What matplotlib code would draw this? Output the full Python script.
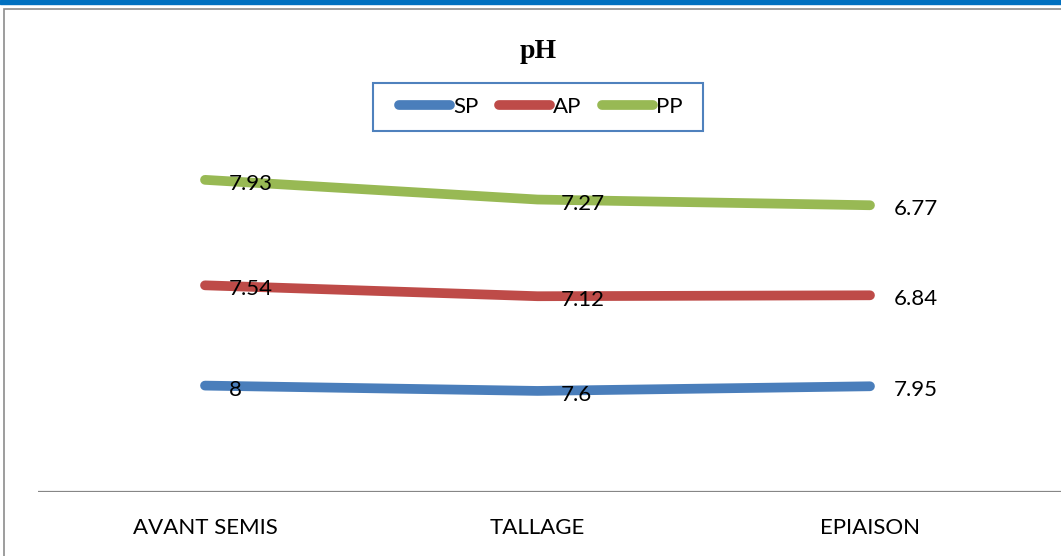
import numpy as np
import matplotlib.pyplot as plt
from matplotlib.patches import Rectangle
from matplotlib.lines import Line2D

# données (courbes empilées, comme dans Excel)
stades = ['AVANT SEMIS', 'TALLAGE', 'EPIAISON']
sp = [8, 7.6, 7.95]
ap = [7.54, 7.12, 6.84]
pp = [7.93, 7.27, 6.77]
noms = ['SP', 'AP', 'PP']
couleurs = ['#4A7EBB', '#BE4B48', '#98B954']

W, H = 1061, 556
fig = plt.figure(figsize=(W / 100, H / 100), dpi=100)

# cadre du graphique
fig.patches.append(Rectangle((0, 1 - 4 / H), 1, 4 / H, transform=fig.transFigure,
                             color='#0070C0', zorder=0))
fig.patches.append(Rectangle((4 / W, -0.1), 1.2, 1 - 9 / H + 0.1, transform=fig.transFigure,
                             fill=False, edgecolor='#8C8C8C', lw=1.2, zorder=0))

ax = fig.add_axes([38 / W, 64 / H, 1023 / W, 399 / H])
x = np.arange(len(stades))
series = [np.array(sp), np.array(ap), np.array(pp)]
base = np.zeros(len(stades))
for vals, nom, c in zip(series, noms, couleurs):
    cumul = base + vals
    ax.plot(x, cumul, color=c, lw=7, solid_capstyle='round', label=nom, zorder=3)
    for xi, yi, v in zip(x, cumul, vals):
        ax.annotate(f'{v:g}', (xi, yi), xytext=(17, -3), textcoords='offset points',
                    ha='left', va='center', fontsize=16, family='Lato', zorder=4)
    base = cumul

ax.set_xlim(-167 / 332.5, (W - 205) / 332.5)
ax.set_ylim(0, 30)
ax.axhline(0, color='#868686', lw=1.6, zorder=2)
for s in ax.spines.values():
    s.set_visible(False)
ax.set_yticks([])
ax.set_xticks(x)
ax.set_xticklabels(stades, fontsize=16, family='Lato')
ax.tick_params(axis='x', length=0, pad=19)
ax.patch.set_alpha(0)

fig.text(538 / W, 1 - 51 / H, 'pH', ha='center', va='center', fontsize=20,
         fontweight='bold', family='Liberation Serif')

# légende
fig.patches.append(Rectangle((373 / W, 1 - 131 / H), 330 / W, 48 / H, transform=fig.transFigure,
                             fill=False, edgecolor='#4F81BD', lw=1.5, zorder=5))
handles = [Line2D([], [], color=c, lw=7, solid_capstyle='round') for c in couleurs]
leg = fig.legend(handles, noms, loc='center', bbox_to_anchor=(541 / W, 1 - 107 / H),
                 ncol=3, frameon=False, handlelength=2.3,
                 handletextpad=0.15, columnspacing=0.9, borderpad=0.3,
                 prop={'family': 'Lato', 'size': 16})

fig.savefig('out.png', dpi=100)
